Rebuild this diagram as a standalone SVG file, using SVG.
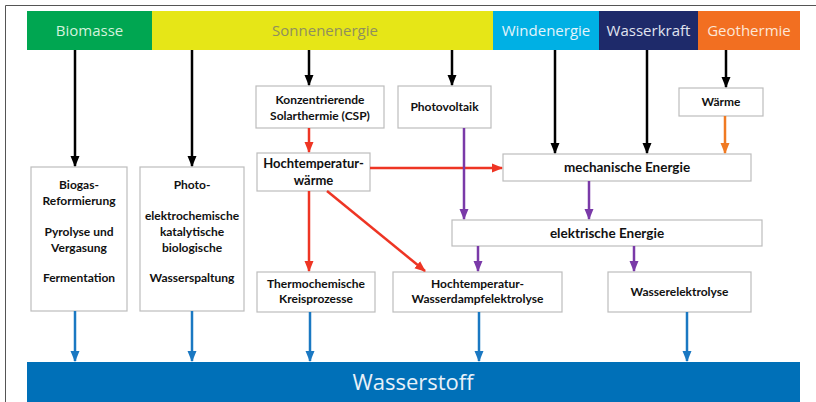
<svg xmlns="http://www.w3.org/2000/svg" width="816" height="402" viewBox="0 0 816 402">
<defs>
<marker id="ak" markerWidth="11" markerHeight="11" refX="10" refY="5.5" orient="auto" markerUnits="userSpaceOnUse"><path d="M0,1 L11,5.5 L0,10 Z" fill="#000"/></marker>
<marker id="ar" markerWidth="11" markerHeight="11" refX="10" refY="5.5" orient="auto" markerUnits="userSpaceOnUse"><path d="M0,1 L11,5.5 L0,10 Z" fill="#ee3524"/></marker>
<marker id="ao" markerWidth="11" markerHeight="11" refX="10" refY="5.5" orient="auto" markerUnits="userSpaceOnUse"><path d="M0,1 L11,5.5 L0,10 Z" fill="#f07a22"/></marker>
<marker id="ap" markerWidth="11" markerHeight="11" refX="10" refY="5.5" orient="auto" markerUnits="userSpaceOnUse"><path d="M0,1 L11,5.5 L0,10 Z" fill="#7a3aa8"/></marker>
<marker id="ab" markerWidth="11" markerHeight="11" refX="10" refY="5.5" orient="auto" markerUnits="userSpaceOnUse"><path d="M0,1 L11,5.5 L0,10 Z" fill="#1a78c2"/></marker>
</defs>
<style>
.hd{font-family:"Open Sans","Noto Sans",sans-serif;font-size:15px;text-anchor:middle}
.box{fill:#fff;stroke:#bdbdbd;stroke-width:1.2}
.t{font-family:Lato,"Liberation Sans",sans-serif;font-weight:bold;font-size:12px;fill:#111;text-anchor:middle}
.m{font-size:13.5px}
.k{stroke:#000;stroke-width:2.5;fill:none;marker-end:url(#ak)}
.r{stroke:#ee3524;stroke-width:2.5;fill:none;marker-end:url(#ar)}
.o{stroke:#f07a22;stroke-width:2.5;fill:none;marker-end:url(#ao)}
.p{stroke:#7a3aa8;stroke-width:2.5;fill:none;marker-end:url(#ap)}
.b{stroke:#1a78c2;stroke-width:2.5;fill:none;marker-end:url(#ab)}
</style>
<rect width="816" height="402" fill="#fff"/>
<path d="M5.5,402 V5.5 H816" fill="none" stroke="#555" stroke-width="1"/>

<g id="biomasse"><rect x="27" y="11" width="125" height="39" fill="#00a651"/><text class="hd" x="89.5" y="36" fill="#d4f2dc">Biomasse</text></g>
<g id="sonnenenergie"><rect x="152" y="11" width="341" height="39" fill="#e6e617"/><text class="hd" x="325" y="36" fill="#8f8f5e">Sonnenenergie</text></g>
<g id="windenergie"><rect x="493" y="11" width="106" height="39" fill="#00b0e4"/><text class="hd" x="546" y="36" fill="#e4f4fb">Windenergie</text></g>
<g id="wasserkraft"><rect x="599" y="11" width="99" height="39" fill="#1e2a6a"/><text class="hd" x="648.5" y="36" fill="#e0e4f0">Wasserkraft</text></g>
<g id="geothermie"><rect x="698" y="11" width="102" height="39" fill="#f26f21"/><text class="hd" x="749" y="36" fill="#fde6d6">Geothermie</text></g>

<g id="biogas"><rect class="box" x="31" y="167" width="96" height="144"/>
<text class="t" x="79" y="189">Biogas-</text><text class="t" x="79" y="205">Reformierung</text>
<text class="t" x="79" y="236">Pyrolyse und</text><text class="t" x="79" y="252">Vergasung</text>
<text class="t" x="79" y="282">Fermentation</text></g>
<g id="photo"><rect class="box" x="140" y="167" width="104" height="144"/>
<text class="t" x="192" y="189">Photo-</text><text class="t" x="192" y="220">elektrochemische</text>
<text class="t" x="192" y="236">katalytische</text><text class="t" x="192" y="252">biologische</text>
<text class="t" x="192" y="282">Wasserspaltung</text></g>
<g id="csp"><rect class="box" x="256" y="86" width="128" height="42"/>
<text class="t" x="320" y="104">Konzentrierende</text><text class="t" x="320" y="120">Solarthermie (CSP)</text></g>
<g id="photovoltaik"><rect class="box" x="398" y="86" width="93" height="42"/>
<text class="t" x="444.5" y="111">Photovoltaik</text></g>
<g id="waerme"><rect class="box" x="679" y="88" width="84" height="28"/>
<text class="t" x="721" y="106">Wärme</text></g>
<g id="htwaerme"><rect class="box" x="257" y="153" width="113" height="38"/>
<text class="t" x="313.5" y="168" style="font-size:13px">Hochtemperatur-</text><text class="t" x="313.5" y="185" style="font-size:13px">wärme</text></g>
<g id="mechanisch"><rect class="box" x="503" y="154" width="248" height="27"/>
<text class="t m" x="627" y="172">mechanische Energie</text></g>
<g id="elektrisch"><rect class="box" x="452" y="220" width="310" height="26"/>
<text class="t m" x="607" y="238">elektrische Energie</text></g>
<g id="thermochemisch"><rect class="box" x="257" y="272" width="118" height="40"/>
<text class="t" x="316" y="288">Thermochemische</text><text class="t" x="316" y="303">Kreisprozesse</text></g>
<g id="htwe"><rect class="box" x="393" y="272" width="169" height="40"/>
<text class="t" x="477.5" y="288">Hochtemperatur-</text><text class="t" x="477.5" y="303">Wasserdampfelektrolyse</text></g>
<g id="wasserelektrolyse"><rect class="box" x="608" y="272" width="143" height="40"/>
<text class="t" x="679.5" y="296">Wasserelektrolyse</text></g>
<g id="wasserstoff"><rect x="27" y="362" width="773" height="40" fill="#0070b8"/>
<text x="413" y="390" style="font-family:'Open Sans','Noto Sans',sans-serif;font-size:22px;fill:#e8f1f8;text-anchor:middle">Wasserstoff</text></g>

<g id="connectors">
<path class="k" d="M75,50 V166"/>
<path class="k" d="M192,50 V166"/>
<path class="k" d="M309,50 V85"/>
<path class="k" d="M452,50 V85"/>
<path class="k" d="M555,50 V153"/>
<path class="k" d="M647,50 V153"/>
<path class="k" d="M726,50 V87"/>
<path class="o" d="M725,116 V153"/>
<path class="r" d="M309,128 V152"/>
<path class="r" d="M370,168 H502"/>
<path class="r" d="M309,191 V271"/>
<path class="r" d="M327,191 L425,271"/>
<path class="p" d="M464,128 V219"/>
<path class="p" d="M589,181 V219"/>
<path class="p" d="M478,246 V271"/>
<path class="p" d="M634,246 V271"/>
<path class="b" d="M75,311 V361"/>
<path class="b" d="M192,311 V361"/>
<path class="b" d="M310,312 V361"/>
<path class="b" d="M479,312 V361"/>
<path class="b" d="M687,312 V361"/>
</g>
</svg>
